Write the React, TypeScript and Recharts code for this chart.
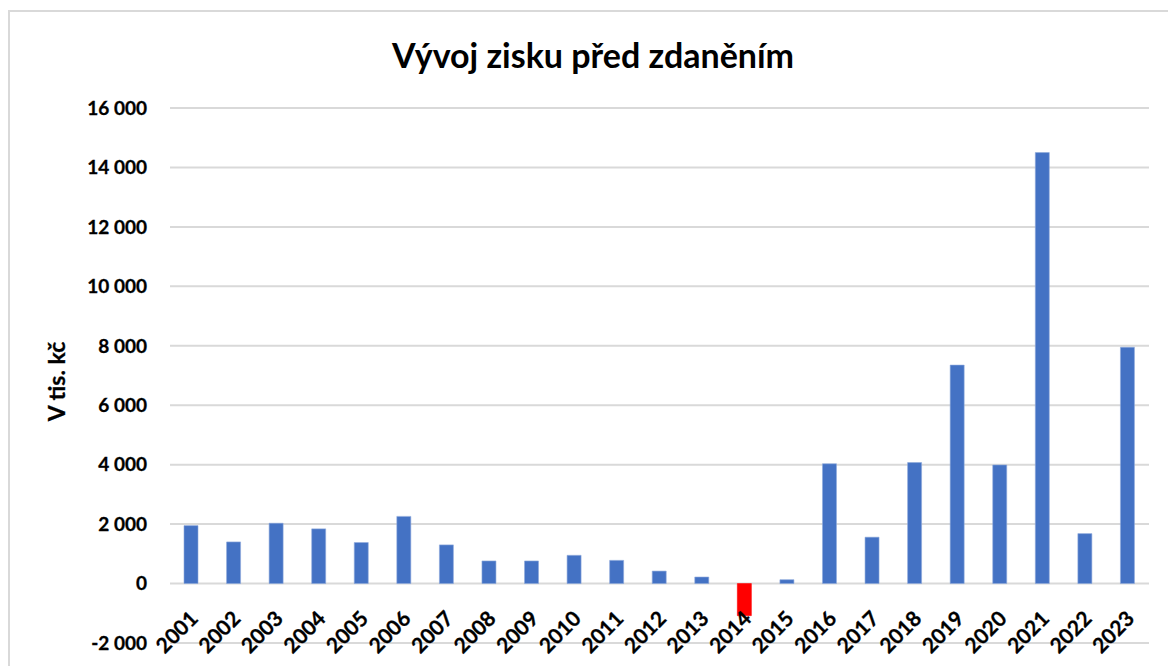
import React from 'react';
import { BarChart, Bar, XAxis, YAxis, CartesianGrid, Cell } from 'recharts';

const years = [
  '2001', '2002', '2003', '2004', '2005', '2006', '2007', '2008', '2009', '2010', '2011', '2012',
  '2013', '2014', '2015', '2016', '2017', '2018', '2019', '2020', '2021', '2022', '2023',
];
const profit = [
  1950, 1400, 2030, 1840, 1380, 2260, 1300, 760, 760, 950, 780, 420,
  220, -1080, 130, 4030, 1560, 4070, 7350, 3990, 14500, 1680, 7950,
];
const yTicks = [-2000, 0, 2000, 4000, 6000, 8000, 10000, 12000, 14000, 16000];

const data = years.map((year, i) => ({ year, profit: profit[i] }));

const FONT = 'Lato, "Open Sans", sans-serif';

const fmt = (v: number) => {
  const s = Math.abs(v).toString().replace(/\B(?=(\d{3})+(?!\d))/g, ' ');
  return v < 0 ? '-' + s : s;
};

const YearTick = (props: any) => {
  const { x, y, payload } = props;
  return (
    <g transform={`translate(${x + 8},${y - 31})`}>
      <text
        textAnchor="end"
        transform="rotate(-45)"
        fontFamily={FONT}
        fontWeight={700}
        fontSize={21}
        fill="#000"
        stroke="#000"
        strokeWidth={0.3}
      >
        {payload.value}
      </text>
    </g>
  );
};

const App: React.FC = () => {
  return (
    <div style={{ position: 'absolute', left: 0, top: 0, width: 1168, height: 666, background: '#fff', overflow: 'hidden' }}>
      <div
        style={{
          position: 'absolute',
          left: 8,
          top: 10,
          width: 1180,
          height: 700,
          border: '2px solid #d9d9d9',
        }}
      />
      <div
        style={{
          position: 'absolute',
          left: 0,
          top: 34,
          width: 1186,
          textAlign: 'center',
          fontFamily: FONT,
          fontWeight: 700,
          fontSize: 34,
          color: '#000',
        }}
      >
        Vývoj zisku před zdaněním
      </div>
      <div style={{ position: 'absolute', left: 0, top: 0 }}>
        <BarChart
          width={1168}
          height={666}
          data={data}
          margin={{ top: 108, right: 19, left: 40, bottom: 22 }}
        >
          <CartesianGrid vertical={false} stroke="#d9d9d9" strokeWidth={2} />
          <XAxis
            dataKey="year"
            axisLine={false}
            tickLine={false}
            interval={0}
            height={1}
            tick={<YearTick />}
          />
          <YAxis
            width={130}
            domain={[-2000, 16000]}
            ticks={yTicks}
            tickFormatter={fmt}
            axisLine={false}
            tickLine={false}
            tickMargin={17}
            tick={{ fontFamily: FONT, fontWeight: 700, fontSize: 19, fill: '#000', stroke: '#000', strokeWidth: 0.3 }}
            label={{
              value: 'V tis. kč',
              angle: -90,
              position: 'insideLeft',
              offset: 17,
              dy: 6,
              style: { textAnchor: 'middle', fontFamily: FONT, fontWeight: 700, fontSize: 23, fill: '#000', stroke: '#000', strokeWidth: 0.3 },
            }}
          />
          <Bar dataKey="profit" barSize={14} isAnimationActive={false} stroke="#8eaadb" strokeWidth={0.6}>
            {data.map((d) => (
              <Cell key={d.year} fill={d.profit < 0 ? '#ff0000' : '#4472c4'} stroke={d.profit < 0 ? '#ff0000' : '#8eaadb'} />
            ))}
          </Bar>
        </BarChart>
      </div>
    </div>
  );
};

export default App;
